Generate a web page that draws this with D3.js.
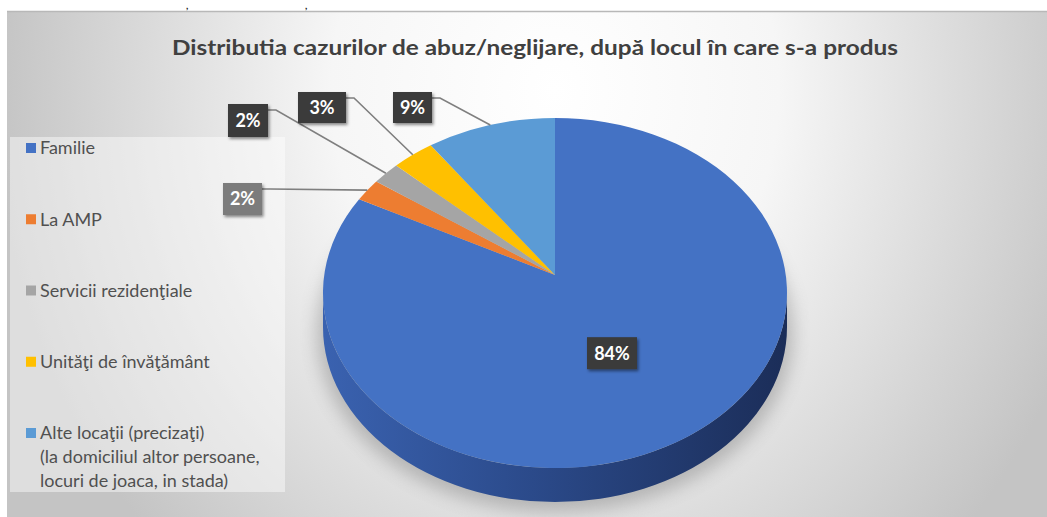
<!DOCTYPE html>
<html>
<head>
<meta charset="utf-8">
<script src="https://cdn.jsdelivr.net/npm/d3@7"></script>
<style>
  html, body { margin: 0; padding: 0; background: #ffffff; }
  svg { display: block; }
  text { font-family: Lato, "Open Sans", "Liberation Sans", sans-serif; }
</style>
</head>
<body>
<svg id="chart" width="1047" height="517"></svg>
<script>
// ---------------- data ----------------
const title = "Distributia cazurilor de abuz/neglijare, după locul în care s-a produs";
const categories = ["Familie", "La AMP", "Servicii rezidenţiale", "Unităţi de învăţământ", "Alte locaţii (precizaţi)"];
const legendLines = [
  ["Familie"],
  ["La AMP"],
  ["Servicii rezidenţiale"],
  ["Unităţi de învăţământ"],
  ["Alte locaţii (precizaţi)", "(la domiciliul altor persoane,", "locuri de joaca, in stada)"]
];
const values = [84, 2, 2, 3, 9];
const valueLabels = ["84%", "2%", "2%", "3%", "9%"];
const colors = ["#4472C4", "#ED7D31", "#A5A5A5", "#FFC000", "#5B9BD5"];

// ---------------- layout ----------------
const W = 1047, H = 517;
const svg = d3.select("#chart");
const defs = svg.append("defs");

// background gradient
const bg = defs.append("radialGradient").attr("id", "bg")
  .attr("gradientUnits", "userSpaceOnUse")
  .attr("cx", 555).attr("cy", 90).attr("r", 560)
  .attr("gradientTransform", "translate(555,90) scale(1,1.15) translate(-555,-90)");
bg.append("stop").attr("offset", 0).attr("stop-color", "#ffffff");
bg.append("stop").attr("offset", 0.4).attr("stop-color", "#f6f6f6");
bg.append("stop").attr("offset", 1).attr("stop-color", "#c4c4c4");

const side = defs.append("linearGradient").attr("id", "side")
  .attr("x1", 0).attr("x2", 1).attr("y1", 0).attr("y2", 0);
side.append("stop").attr("offset", 0).attr("stop-color", "#3a62b0");
side.append("stop").attr("offset", 0.45).attr("stop-color", "#2b4a8a");
side.append("stop").attr("offset", 1).attr("stop-color", "#1b2d58");

const blur = defs.append("filter").attr("id", "blur")
  .attr("x", "-20%").attr("y", "-20%").attr("width", "140%").attr("height", "140%");
blur.append("feGaussianBlur").attr("stdDeviation", 9);

const shadow = defs.append("filter").attr("id", "lblShadow")
  .attr("x", "-30%").attr("y", "-30%").attr("width", "160%").attr("height", "160%");
shadow.append("feDropShadow").attr("dx", 1.5).attr("dy", 2).attr("stdDeviation", 1.5)
  .attr("flood-color", "#000").attr("flood-opacity", 0.45);

// page remnants above chart
svg.append("text").attr("x", 186).attr("y", 9).attr("font-size", 10).attr("font-weight", "bold").attr("fill", "#222").text(",");
svg.append("text").attr("x", 305).attr("y", 9).attr("font-size", 10).attr("font-weight", "bold").attr("fill", "#222").text(",");

// chart area
const area = { x: 7, y: 11, w: W - 7, h: H - 11 };
svg.append("rect").attr("x", area.x).attr("y", area.y).attr("width", area.w).attr("height", area.h)
  .attr("fill", "url(#bg)");
svg.append("line").attr("x1", area.x).attr("x2", W).attr("y1", area.y + 0.5).attr("y2", area.y + 0.5)
  .attr("stroke", "#b8b8b8").attr("stroke-width", 1.5);

// title
svg.append("text")
  .attr("x", 535).attr("y", 55)
  .attr("text-anchor", "middle")
  .attr("font-size", 20).attr("font-weight", "bold")
  .attr("fill", "#404040")
  .attr("textLength", 726).attr("lengthAdjust", "spacingAndGlyphs")
  .text(title);

// legend box
svg.append("rect").attr("x", 10).attr("y", 137).attr("width", 275).attr("height", 355)
  .attr("fill", "#ffffff").attr("opacity", 0.45);

const legendY = d3.scalePoint().domain(categories).range([148, 433]);
const lg = svg.append("g").selectAll("g").data(categories).join("g")
  .attr("transform", d => `translate(0,${legendY(d)})`);
lg.append("rect").attr("x", 26).attr("y", -5).attr("width", 10).attr("height", 10)
  .attr("fill", (d, i) => colors[i]);
lg.append("text").attr("x", 40).attr("font-size", 18).attr("fill", "#505050")
  .selectAll("tspan").data((d, i) => legendLines[i]).join("tspan")
  .attr("x", 40).attr("dy", (d, j) => j === 0 ? "0.35em" : 24)
  .text(d => d);

// ---------------- pie ----------------
const cx = 555, cy = 293, rx = 232, ry = 175, depth = 34;
const apex = [555, 275];
const P = a => [cx + rx * Math.sin(a), cy - ry * Math.cos(a)];

const pie = d3.pie().sort(null).value(d => d)(values);

// soft shadow under pie
svg.append("ellipse").attr("cx", cx).attr("cy", cy + depth + 6).attr("rx", rx + 6).attr("ry", ry + 4)
  .attr("fill", "#7a7a7a").attr("opacity", 0.45).attr("filter", "url(#blur)");

// side wall (front half, all Familie)
svg.append("path")
  .attr("d", `M${cx + rx},${cy} A${rx},${ry} 0 0 1 ${cx - rx},${cy} L${cx - rx},${cy + depth} A${rx},${ry} 0 0 0 ${cx + rx},${cy + depth} Z`)
  .attr("fill", "url(#side)");

// top face slices
svg.append("g").selectAll("path").data(pie).join("path")
  .attr("d", d => {
    const p0 = P(d.startAngle), p1 = P(d.endAngle);
    const large = (d.endAngle - d.startAngle) > Math.PI ? 1 : 0;
    return `M${apex[0]},${apex[1]} L${p0[0]},${p0[1]} A${rx},${ry} 0 ${large} 1 ${p1[0]},${p1[1]} Z`;
  })
  .attr("fill", (d, i) => colors[i]);

// ---------------- data labels ----------------
const labelBoxes = [
  null,
  { x: 223, y: 183, w: 39, h: 32, fill: "#7b7b7b" },
  { x: 228, y: 104, w: 40, h: 33, fill: "#3a3a3a" },
  { x: 298, y: 92, w: 48, h: 31, fill: "#3a3a3a" },
  { x: 393, y: 92, w: 39, h: 31, fill: "#3a3a3a" }
];

const lblG = svg.append("g");
pie.forEach((d, i) => {
  const mid = (d.startAngle + d.endAngle) / 2;
  let b = labelBoxes[i];
  if (!b) {
    const e = P(mid);
    const k = 0.51;
    const lx = apex[0] + k * (e[0] - cx), ly = apex[1] + k * (e[1] - cy);
    b = { x: lx - 25, y: ly - 16, w: 50, h: 32, fill: "#3a3a3a" };
  } else {
    const anchor = P(mid);
    const sy = b.y + 6;
    lblG.append("path")
      .attr("d", `M${b.x + b.w},${sy} L${b.x + b.w + 8},${sy} L${anchor[0]},${anchor[1]}`)
      .attr("fill", "none").attr("stroke", "#7f7f7f").attr("stroke-width", 1.6);
  }
  lblG.append("rect").attr("x", b.x).attr("y", b.y).attr("width", b.w).attr("height", b.h)
    .attr("fill", b.fill).attr("filter", "url(#lblShadow)");
  lblG.append("text").attr("x", b.x + b.w / 2).attr("y", b.y + b.h / 2)
    .attr("dy", "0.36em").attr("text-anchor", "middle")
    .attr("font-size", 18).attr("font-weight", "bold").attr("fill", "#ffffff")
    .text(valueLabels[i]);
});
</script>
</body>
</html>
